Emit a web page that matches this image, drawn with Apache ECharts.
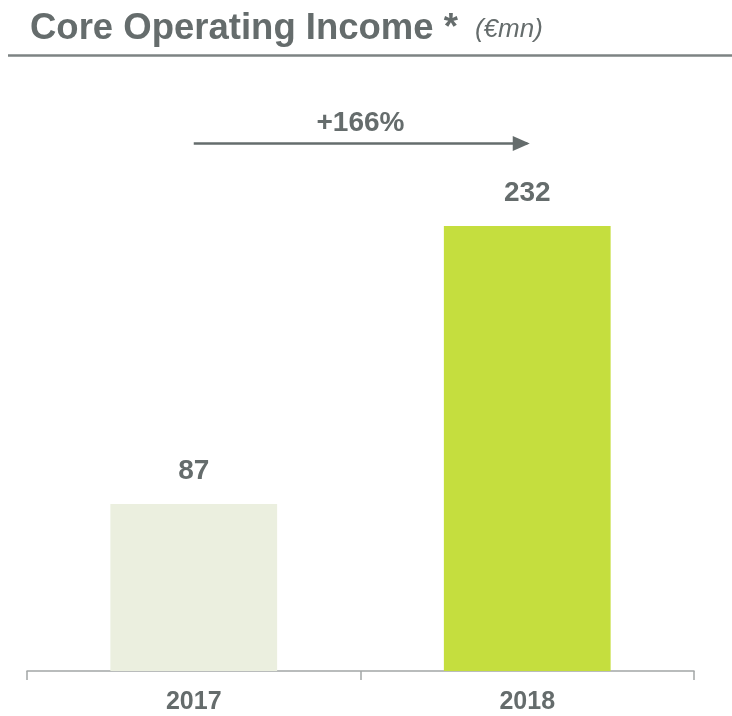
<!DOCTYPE html>
<html>
<head>
<meta charset="utf-8">
<script src="https://cdn.jsdelivr.net/npm/echarts@6/dist/echarts.min.js"></script>
<style>
  html, body { margin: 0; padding: 0; background: #fff; }
  #chart { width: 732px; height: 716px; }
</style>
</head>
<body>
<div id="chart"></div>
<script>
// Core operating income, € millions
const years = ['2017', '2018'];
const coreOperatingIncome = [87, 232];
const barColors = ['#ebefdf', '#c5de3e'];
const growthLabel = '+166%';
const arrowLevel = 275;

const textGray = '#656c6c';
const font = 'Liberation Sans, Arial, sans-serif';

const chart = echarts.init(document.getElementById('chart'));

chart.setOption({
  backgroundColor: '#ffffff',
  animation: false,
  title: {
    left: 25,
    top: 5,
    text: '{main|Core Operating Income *}{unit|(€mn)}',
    textStyle: {
      rich: {
        main: { fontFamily: font, fontSize: 36.5, fontWeight: 'bold', color: textGray },
        unit: { fontFamily: font, fontSize: 26, fontStyle: 'italic', fontWeight: 'normal', color: textGray, padding: [2, 0, 0, 17] }
      }
    }
  },
  graphic: [{
    type: 'line',
    shape: { x1: 8, y1: 55.5, x2: 732, y2: 55.5 },
    style: { stroke: '#7d8383', lineWidth: 2.5 }
  }],
  grid: { left: 27, right: 38, top: 95.5, bottom: 45 },
  xAxis: {
    type: 'category',
    data: years,
    axisLine: { lineStyle: { color: '#a3a6a6', width: 1.5 } },
    axisTick: { show: true, length: 9, lineStyle: { color: '#a3a6a6', width: 1.5 } },
    axisLabel: {
      margin: 19,
      fontFamily: font,
      fontSize: 25, fontWeight: 'bold', color: textGray
    }
  },
  yAxis: {
    type: 'value', min: 0, max: 300, show: false,
    splitLine: { show: false }
  },
  series: [{
    type: 'bar',
    barWidth: '50%',
    data: coreOperatingIncome.map((v, i) => ({ value: v, itemStyle: { color: barColors[i] } })),
    label: {
      show: true,
      position: 'top',
      distance: 19,
      fontFamily: font,
      fontSize: 28, fontWeight: 'bold', color: textGray
    },
    markLine: {
      silent: true,
      symbol: ['none', 'triangle'],
      symbolSize: [15, 17],
      symbolOffset: [0, [0, 6]],
      lineStyle: { color: '#656c6c', width: 2.5, type: 'solid' },
      label: {
        show: true,
        position: 'middle',
        formatter: growthLabel,
        distance: 6,
        fontFamily: font,
        fontSize: 28, fontWeight: 'bold', color: textGray
      },
      data: [[
        { coord: [years[0], arrowLevel] },
        { coord: [years[1], arrowLevel] }
      ]]
    }
  }]
});
</script>
</body>
</html>
